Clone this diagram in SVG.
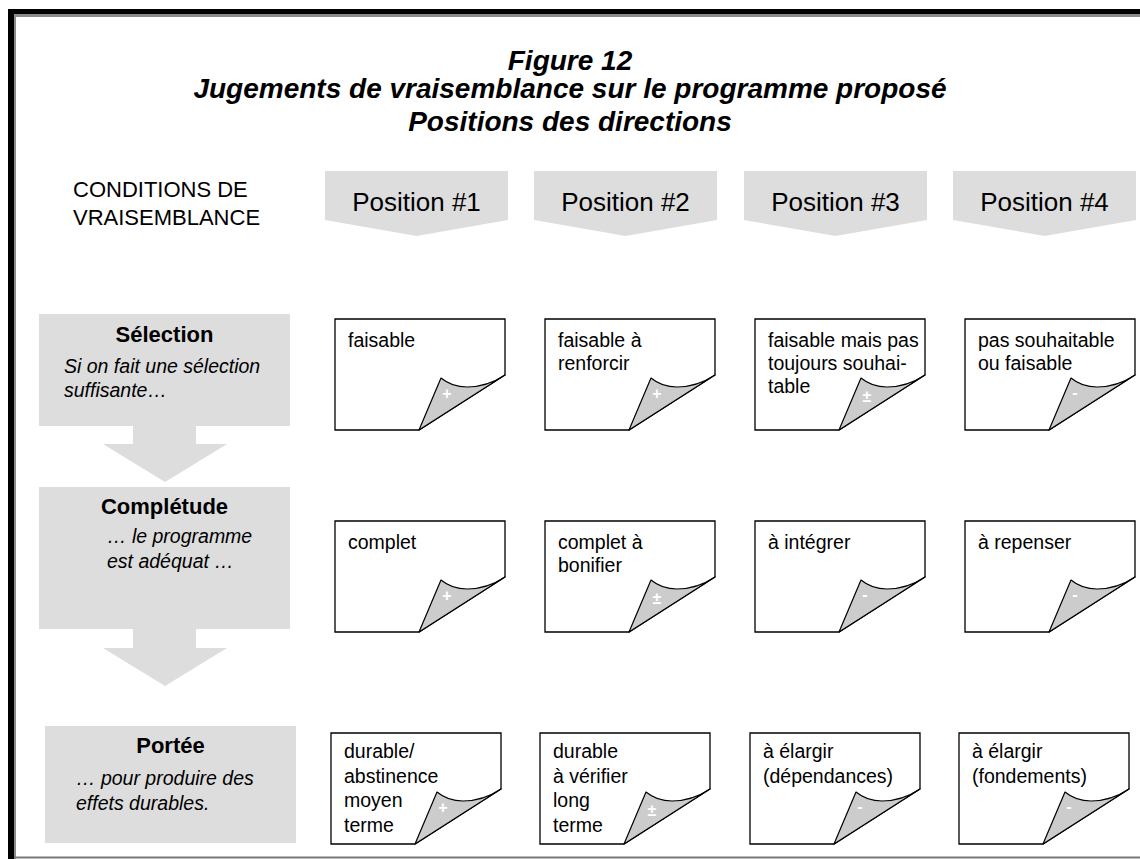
<svg xmlns="http://www.w3.org/2000/svg" width="1140" height="859" viewBox="0 0 1140 859">
  <style>
    text { font-family: "Liberation Sans", Arial, sans-serif; fill: #000; }
    .title { font-size: 28px; font-weight: bold; font-style: italic; text-anchor: middle; }
    .hdr { font-size: 26px; text-anchor: middle; }
    .cond { font-size: 22px; }
    .band { fill: #dddddd; }
    .bandtitle { font-size: 22px; font-weight: bold; text-anchor: middle; }
    .bandnote { font-size: 19.5px; font-style: italic; }
    .page { fill: #fff; stroke: #000; stroke-width: 1.3; }
    .flap { fill: #cccccc; stroke: #000; stroke-width: 1.2; stroke-linejoin: round; }
    .ptxt { font-size: 19.5px; }
    .sign { font-size: 16px; font-weight: bold; fill: #fff; text-anchor: middle; }
  </style>
  <defs>
    <!-- dog-eared note sheet, 170 x 111, origin at top-left -->
    <g id="sheet">
      <path class="page" d="M0,0 H170 V56 L84,111 H0 Z"/>
      <path class="flap" d="M84,111 L106,59 C112,64 120,68 132,68 C146,68 158,64 170,56 Z"/>
    </g>
  </defs>

  <rect width="1140" height="859" fill="#fff"/>

  <!-- frame -->
  <g id="frame">
    <rect x="8" y="9" width="1132" height="5" fill="#000"/>
    <rect x="8" y="9" width="6" height="850" fill="#000"/>
    <rect x="14" y="14" width="1126" height="3" fill="#8a8a8a"/>
    <rect x="14" y="14" width="2" height="845" fill="#8a8a8a"/>
    <rect x="14" y="856.5" width="1126" height="2" fill="#777"/>
  </g>

  <!-- heading -->
  <g id="title">
    <text class="title" x="570" y="70">Figure 12</text>
    <text class="title" x="570" y="98">Jugements de vraisemblance sur le programme proposé</text>
    <text class="title" x="570" y="131">Positions des directions</text>
  </g>

  <g id="conditions-label">
    <text class="cond" x="73" y="197">CONDITIONS DE</text>
    <text class="cond" x="73" y="225">VRAISEMBLANCE</text>
  </g>

  <!-- column headers -->
  <g id="pos1">
    <path class="band" d="M325,171 H508 V220 L416.5,236 L325,220 Z"/>
    <text class="hdr" x="416.5" y="211">Position #1</text>
  </g>
  <g id="pos2">
    <path class="band" d="M534,171 H717 V220 L625.5,236 L534,220 Z"/>
    <text class="hdr" x="625.5" y="211">Position #2</text>
  </g>
  <g id="pos3">
    <path class="band" d="M744,171 H927 V220 L835.5,236 L744,220 Z"/>
    <text class="hdr" x="835.5" y="211">Position #3</text>
  </g>
  <g id="pos4">
    <path class="band" d="M953,171 H1136 V220 L1044.5,236 L953,220 Z"/>
    <text class="hdr" x="1044.5" y="211">Position #4</text>
  </g>

  <!-- row headers -->
  <g id="selection">
    <rect class="band" x="39" y="314" width="251" height="112"/>
    <text class="bandtitle" x="164.5" y="342">Sélection</text>
    <text class="bandnote" x="64" y="373">Si on fait une sélection</text>
    <text class="bandnote" x="64" y="397">suffisante…</text>
  </g>
  <g id="completude">
    <rect class="band" x="39" y="487" width="251" height="142"/>
    <text class="bandtitle" x="164.5" y="514">Complétude</text>
    <text class="bandnote" x="107" y="543">… le programme</text>
    <text class="bandnote" x="107" y="568">est adéquat …</text>
  </g>
  <g id="portee">
    <rect class="band" x="45" y="726" width="251" height="117"/>
    <text class="bandtitle" x="170.5" y="753">Portée</text>
    <text class="bandnote" x="76" y="785">… pour produire des</text>
    <text class="bandnote" x="76" y="810">effets durables.</text>
  </g>

  <!-- flow arrows between row headers -->
  <g id="connectors">
    <path class="band" d="M133,426 H196 V444 H227 L165,482 L103,444 H133 Z"/>
    <path class="band" d="M133,629 H196 V648 H227 L165,686 L103,648 H133 Z"/>
  </g>

  <!-- row 1 : Sélection -->
  <g id="r1c1" transform="translate(335,319)">
    <use href="#sheet"/>
    <text class="ptxt" x="13" y="28">faisable</text>
    <text class="sign" x="112" y="80">+</text>
  </g>
  <g id="r1c2" transform="translate(545,319)">
    <use href="#sheet"/>
    <text class="ptxt" x="13" y="28">faisable à</text>
    <text class="ptxt" x="13" y="51">renforcir</text>
    <text class="sign" x="112" y="80">+</text>
  </g>
  <g id="r1c3" transform="translate(755,319)">
    <use href="#sheet"/>
    <text class="ptxt" x="13" y="28">faisable mais pas</text>
    <text class="ptxt" x="13" y="51">toujours souhai-</text>
    <text class="ptxt" x="13" y="74">table</text>
    <text class="sign" x="112" y="83">±</text>
  </g>
  <g id="r1c4" transform="translate(965,319)">
    <use href="#sheet"/>
    <text class="ptxt" x="13" y="28">pas souhaitable</text>
    <text class="ptxt" x="13" y="51">ou faisable</text>
    <text class="sign" x="110" y="79">-</text>
  </g>

  <!-- row 2 : Complétude -->
  <g id="r2c1" transform="translate(335,521)">
    <use href="#sheet"/>
    <text class="ptxt" x="13" y="28">complet</text>
    <text class="sign" x="112" y="80">+</text>
  </g>
  <g id="r2c2" transform="translate(545,521)">
    <use href="#sheet"/>
    <text class="ptxt" x="13" y="28">complet à</text>
    <text class="ptxt" x="13" y="51">bonifier</text>
    <text class="sign" x="112" y="83">±</text>
  </g>
  <g id="r2c3" transform="translate(755,521)">
    <use href="#sheet"/>
    <text class="ptxt" x="13" y="28">à intégrer</text>
    <text class="sign" x="110" y="79">-</text>
  </g>
  <g id="r2c4" transform="translate(965,521)">
    <use href="#sheet"/>
    <text class="ptxt" x="13" y="28">à repenser</text>
    <text class="sign" x="110" y="79">-</text>
  </g>

  <!-- row 3 : Portée -->
  <g id="r3c1" transform="translate(331,733)">
    <use href="#sheet"/>
    <text class="ptxt" x="13" y="25">durable/</text>
    <text class="ptxt" x="13" y="49.5">abstinence</text>
    <text class="ptxt" x="13" y="74">moyen</text>
    <text class="ptxt" x="13" y="98.5">terme</text>
    <text class="sign" x="112" y="80">+</text>
  </g>
  <g id="r3c2" transform="translate(540,733)">
    <use href="#sheet"/>
    <text class="ptxt" x="13" y="25">durable</text>
    <text class="ptxt" x="13" y="49.5">à vérifier</text>
    <text class="ptxt" x="13" y="74">long</text>
    <text class="ptxt" x="13" y="98.5">terme</text>
    <text class="sign" x="112" y="83">±</text>
  </g>
  <g id="r3c3" transform="translate(750,733)">
    <use href="#sheet"/>
    <text class="ptxt" x="13" y="25">à élargir</text>
    <text class="ptxt" x="13" y="49.5">(dépendances)</text>
    <text class="sign" x="110" y="79">-</text>
  </g>
  <g id="r3c4" transform="translate(959,733)">
    <use href="#sheet"/>
    <text class="ptxt" x="13" y="25">à élargir</text>
    <text class="ptxt" x="13" y="49.5">(fondements)</text>
    <text class="sign" x="110" y="79">-</text>
  </g>
</svg>
